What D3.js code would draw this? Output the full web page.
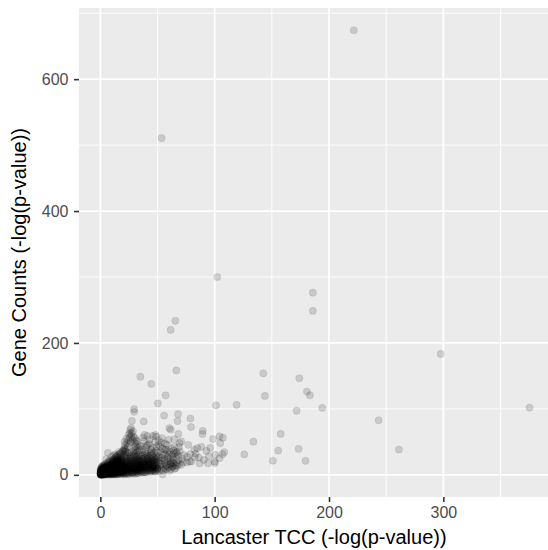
<!DOCTYPE html>
<html>
<head>
<meta charset="utf-8">
<script src="https://cdn.jsdelivr.net/npm/d3@7"></script>
<style>
  body { margin: 0; background: #fff; }
  svg { display: block; }
</style>
</head>
<body>
<svg id="chart" width="548" height="550"></svg>
<script>
// Each gene: [Lancaster TCC -log(p), gene-count -log(p)]

// Isolated, strongly significant genes
const outlierGenes = [
  [221.7,674.2],[53.6,510.6],[102.3,300.0],[185.9,276.2],[185.9,248.5],[65.6,233.6],[61.5,219.7],
  [297.7,183.3],[66.5,158.3],[35.0,148.8],[44.6,137.9],[142.5,154.0],[174.0,146.5],[57.1,120.5],
  [143.9,119.7],[180.7,126.2],[183.3,120.7],[171.7,97.0],[194.1,101.5],[243.4,82.8],[375.4,102.0],
  [157.7,62.1],[155.6,36.8],[173.4,39.4],[150.9,21.4],[179.5,21.2],[261.1,38.4]
];

// Moderately significant genes around the main cloud
const midGenes = [
  [50.3,108.3],[101.2,105.4],[119.2,106.2],[29.6,99.5],[29.5,95.5],[55.8,90.0],[68.0,92.0],[67.5,81.6],
  [78.8,85.4],[79.3,72.5],[27.6,81.8],[37.9,81.0],[26.8,70.9],[25.6,63.2],[60.4,70.8],[61.6,68.4],
  [89.6,66.8],[89.3,62.0],[68.2,62.0],[98.5,54.3],[107.1,56.3],[104.9,48.0],[96.2,41.0],[88.3,42.6],
  [108.4,34.4],[106.9,31.4],[125.9,31.0],[133.9,50.3],[100.5,30.3],[100.2,17.9],[95.0,28.5],[94.1,17.7],
  [86.8,17.3],[90.6,22.7],[86.2,26.2],[79.6,20.2],[78.7,31.4],[72.2,19.0],[73.1,29.8],[68.7,41.9],
  [76.9,45.5],[66.5,32.9],[64.7,54.0],[70.8,50.5],[49.0,58.0],[58.2,46.0],[54.6,0.8],[60.6,35.3],
  [61.5,16.7],[84.8,40.5],[38.7,60.6],[46.0,59.0],[53.3,49.0],[59.7,53.0],[69.3,48.0],[104.3,58.5],
  [99.9,20.2],[104.3,25.3],[63.5,17.7],[70.8,15.2],[78.1,20.2],[6.6,33.5],[48.1,60.6],[41.1,59.0],
  [51.2,52.0],[25.4,48.0],[31.5,52.0],[34.4,42.9],[41.6,45.5],[49.0,42.9],[82.5,26.8],[75.7,18.6],
  [64.7,42.9],[64.1,36.8],[56.8,47.4],[82.2,37.9],[71.5,24.5],[76.0,27.3],[83.4,31.8],[92.7,36.3],
  [40.5,44.8],[45.7,41.0],[47.9,49.6],[43.2,53.5],[50.9,45.9],[53.9,55.7],[56.0,38.0],[45.0,36.0]
];

// Bulk of genes with weak evidence in both tests (TCC below ~20)
const coreGenes = [
  [0.1,0.2],[0.3,1.1],[0.5,0.4],[0.8,2.3],[1.2,0.7],[0.2,3.1],[1.5,1.6],[1.9,0.3],[0.6,4.2],[2.2,2.8],
  [2.6,1.0],[1.1,5.3],[3.0,0.5],[0.4,6.4],[2.9,3.7],[3.4,2.1],[1.7,7.0],[3.8,4.6],[4.1,1.4],[0.9,8.1],
  [2.4,5.9],[4.5,3.2],[4.9,0.9],[3.1,6.8],[5.2,5.0],[1.4,9.2],[5.6,2.4],[4.3,7.9],[6.0,1.1],[2.7,10.3],
  [6.3,4.1],[5.0,8.7],[6.7,6.2],[3.6,11.4],[7.1,2.9],[7.4,8.0],[5.8,10.6],[0.7,0.9],[1.3,2.6],[0.2,1.8],
  [2.0,4.4],[1.6,3.5],[2.8,0.2],[3.3,4.0],[0.5,2.9],[1.8,1.2],[2.3,6.6],[4.0,5.5],[3.7,0.8],[4.6,2.0],
  [5.4,3.8],[0.3,5.0],[1.0,6.9],[2.5,8.4],[4.8,6.3],[6.1,7.4],[5.9,0.4],[6.9,3.6],[7.7,5.1],[7.9,1.7],
  [0.8,0.1],[1.4,0.5],[2.1,1.9],[1.0,3.8],[0.1,4.6],[3.5,2.7],[2.7,3.3],[4.2,0.2],[4.4,4.4],[5.1,1.6],
  [6.5,2.3],[5.5,6.9],[3.9,9.6],[6.6,9.8],[7.3,11.2],[4.7,12.6],[2.0,12.0],[7.8,13.7],[6.2,14.5],[5.3,11.8],
  [0.6,7.5],[1.9,8.9],[3.2,8.2],[0.4,0.6],[0.9,1.5],[1.6,0.1],[2.4,0.8],[0.2,2.4],[1.2,4.0],[2.9,1.6],
  [3.6,5.2],[4.9,3.6],[5.7,4.7],[6.4,5.6],[7.0,7.1],[7.6,9.4],[8.0,3.3],[0.3,3.6],[1.1,1.0],[2.6,2.3],
  [3.3,1.2],[4.0,3.0],[1.7,5.6],[0.7,9.7],[2.2,10.9],[4.5,9.0],[5.9,12.9],[3.0,13.5],[1.3,11.3],[0.5,0.3],
  [1.4,2.0],[2.3,3.2],[3.1,0.9],[3.9,2.2],[4.6,5.0],[5.3,2.7],[6.0,3.0],[6.8,0.8],[7.5,4.3],[7.2,6.0],
  [6.3,8.6],[5.0,9.9],[4.2,6.8],[3.4,7.4],[2.6,7.2],[1.8,6.1],[1.0,4.9],[0.2,7.1],[0.8,5.7],[0.1,0.9],
  [0.6,1.6],[1.5,1.1],[2.1,0.4],[2.8,2.6],[3.5,3.5],[0.4,2.0],[1.1,3.0],[0.9,0.3],[1.9,2.4],[2.5,4.9],
  [0.3,8.8],[1.5,10.1],[3.8,12.4],[3.3,15.2],[4.4,16.8],[5.6,17.5],[6.8,18.9],[2.4,14.1],[7.6,20.2],[1.2,13.0],
  [5.1,24.0],[9.9,27.8],[13.2,31.0],[16.4,34.6],[8.1,22.3],[11.8,29.6],
  [8.2,1.0],[8.5,4.6],[8.8,8.9],[9.1,12.7],[9.4,2.6],[9.7,16.3],[10.0,6.4],[10.3,0.9],[10.6,10.8],[10.9,19.5],
  [11.2,3.7],[11.5,14.1],[11.8,7.9],[12.1,22.0],[12.4,1.8],[12.7,11.6],[13.0,17.2],[13.3,5.3],[13.6,24.4],[13.9,9.4],
  [14.2,2.9],[14.5,14.8],[14.8,20.3],[15.1,7.0],[15.4,26.1],[15.7,11.9],[16.0,1.5],[16.3,17.8],[16.6,4.8],[16.9,23.0],
  [17.2,9.6],[17.5,14.2],[17.8,28.4],[18.1,3.3],[18.4,19.6],[18.7,7.7],[19.0,12.5],[19.3,25.5],[19.6,2.2],[19.9,16.4],
  [8.1,6.7],[8.7,13.3],[9.3,0.5],[9.9,9.2],[10.4,14.9],[10.8,4.1],[11.3,17.8],[11.7,1.2],[12.2,8.4],[12.6,15.0],
  [13.1,3.5],[13.5,20.7],[13.8,12.3],[14.3,6.1],[14.7,23.1],[15.2,0.8],[15.6,16.0],[15.9,9.0],[16.4,21.4],[16.8,2.6],
  [17.1,12.0],[17.6,18.5],[18.0,6.0],[18.5,24.0],[18.9,10.3],[19.4,4.0],[19.8,20.8],
  [8.3,3.0],[8.6,10.9],[9.0,5.6],[9.6,18.0],[10.1,2.0],[10.5,8.0],[11.0,12.2],[11.4,5.8],[11.9,16.1],[12.3,3.1],
  [12.8,19.3],[13.2,7.6],[13.7,14.6],[14.1,0.6],[14.6,10.6],[15.0,18.6],[15.5,4.5],[15.8,22.4],[16.2,8.1],[16.7,13.7],
  [17.0,26.3],[17.4,5.3],[17.9,15.6],[18.3,11.5],[18.8,22.2],[19.2,8.5],[19.7,13.9],
  [8.4,15.2],[8.9,1.9],[9.2,7.4],[9.8,11.1],[10.2,17.4],[10.7,3.0],[11.1,9.5],[11.6,20.6],[12.0,5.0],[12.5,13.2],
  [12.9,0.7],[13.4,10.2],[13.9,18.0],[14.4,4.3],[14.9,12.8],[15.3,21.5],[15.7,2.8],[16.1,14.5],[16.5,6.9],[17.3,20.0],
  [17.7,1.0],[18.2,16.9],[18.6,4.7],[19.1,18.3],[19.5,10.9],[20.0,6.2],
  [8.0,0.2],[8.6,2.2],[9.1,3.8],[9.5,6.0],[10.0,1.1],[10.6,5.2],[11.1,0.4],[11.6,3.0],[12.1,6.7],[12.6,2.4],
  [13.2,1.3],[13.8,4.2],[14.4,8.0],[15.0,2.0],[15.6,6.3],[16.2,3.8],[16.8,9.2],[17.4,2.9],[18.0,8.8],[18.7,1.6],
  [19.3,6.9],[19.8,3.1],[9.7,13.8],[11.2,15.6],[12.8,9.0],[14.0,16.4],[15.4,13.0],[16.9,16.0],[18.3,13.7],[19.6,11.8],
  [10.5,22.5],[12.0,24.8],[13.5,27.0],[15.0,29.0],[16.5,31.0],[18.0,33.0],[19.5,35.0],[11.2,23.0],[14.2,27.9],[17.2,32.1],
  [9.0,20.5],[7.0,15.8],[5.0,14.0],[20.5,36.8],[21.5,38.5]
];

// Shoulder of the cloud: TCC 20-50, including the upward plume
const shoulderGenes = [
  [20.3,1.2],[20.6,9.7],[20.9,17.8],[21.2,26.4],[21.5,4.4],[21.8,13.5],[22.1,31.2],[22.4,7.1],[22.7,21.0],[23.0,2.3],
  [23.3,15.9],[23.6,28.0],[23.9,10.2],[24.2,5.1],[24.5,19.6],[24.8,33.0],[25.1,12.9],[25.4,1.8],[25.7,24.3],[26.0,8.0],
  [26.3,16.8],[26.6,30.1],[26.9,4.3],[27.2,20.9],[27.5,11.0],[27.8,34.3],[28.1,6.6],[28.4,25.8],[28.7,14.6],[29.0,2.9],
  [29.3,18.9],[29.6,29.5],[29.9,9.3],[30.2,22.4],[30.5,4.8],[30.8,13.0],[31.1,32.6],[31.4,7.8],[31.7,17.2],[32.0,26.9],
  [32.3,3.9],[32.6,11.6],[32.9,21.5],[33.2,6.2],[33.5,30.8],[33.8,15.1],[34.1,9.9],[34.4,24.7],[34.7,4.6],[35.0,18.8],
  [20.1,5.6],[20.8,22.7],[21.4,0.9],[21.9,8.6],[22.5,14.4],[23.1,24.9],[23.7,6.4],[24.1,13.8],[24.6,2.8],[25.2,21.2],
  [25.8,10.6],[26.4,27.2],[27.0,14.0],[27.6,3.1],[28.2,17.9],[28.8,9.7],[29.4,31.7],[30.0,15.4],[30.6,8.2],[31.2,24.0],
  [31.8,1.9],[32.4,15.2],[33.0,27.7],[33.6,10.5],[34.2,19.7],[34.8,13.5],
  [20.4,12.6],[21.0,3.0],[21.6,19.2],[22.2,11.0],[22.8,3.9],[23.4,19.0],[24.0,0.8],[24.7,9.0],[25.3,16.0],[26.1,3.6],
  [26.7,11.9],[27.3,24.8],[27.9,8.9],[28.5,4.0],[29.1,12.3],[29.8,6.1],[30.4,27.6],[31.0,11.8],[31.6,20.6],[32.2,8.5],
  [32.8,17.9],[33.4,2.6],[34.0,14.0],[34.6,29.1],[20.2,29.6],[22.0,36.0],[23.5,33.9],[28.9,36.6],[30.7,38.0],[32.5,35.2],
  [34.3,36.8],
  [20.5,7.5],[21.1,15.1],[21.7,10.9],[22.3,2.0],[22.9,26.8],[23.5,9.8],[24.3,17.3],[24.9,6.2],[25.5,14.3],[26.2,22.1],
  [26.8,7.4],[27.4,17.4],[28.0,1.9],[28.6,21.6],[29.2,10.8],[29.9,19.6],[30.3,1.7],[30.9,16.4],[31.5,5.0],[32.1,19.1],
  [32.7,6.4],[33.3,23.0],[33.9,7.2],[34.5,11.2],[35.0,8.0],
  [19.5,36.5],[20.8,40.2],[21.6,44.8],[22.4,38.9],[23.0,48.6],[23.8,43.1],[24.4,52.7],[25.9,56.9],[26.5,49.8],[27.1,59.2],
  [28.3,53.4],[28.6,66.0],[29.2,57.6],[29.8,48.3],[30.3,55.6],[30.9,43.5],[31.6,50.9],[26.2,68.1],[27.4,63.4],[24.9,60.5],
  [22.9,55.0],[21.2,50.3],[29.5,41.2],[32.4,46.7],[33.3,40.6],[35.6,44.0],[36.7,38.6],[38.2,51.3],[40.1,41.8],[42.7,47.2],
  [37.3,56.4],[44.5,38.7],[39.6,35.6],
  [35.4,5.3],[35.9,14.7],[36.3,24.2],[36.8,9.0],[37.2,30.5],[37.7,18.0],[38.1,4.2],[38.6,12.4],[39.0,26.3],[39.5,7.6],
  [39.9,20.9],[40.4,15.5],[40.8,31.9],[41.3,5.9],[41.7,24.6],[42.2,10.7],[42.6,18.3],[43.1,28.8],[43.5,7.0],[44.0,14.0],
  [44.4,22.8],[44.9,4.9],[45.3,31.0],[45.8,11.4],[46.2,19.2],[46.7,26.4],[47.1,8.6],[47.6,16.1],[48.0,23.9],[48.5,6.3],
  [48.9,13.0],[49.4,29.4],[49.8,10.1],
  [35.7,10.4],[36.5,19.7],[37.4,3.8],[38.3,22.2],[39.2,11.0],[40.0,3.5],[40.9,18.6],[41.8,13.8],[42.7,25.8],[43.6,4.6],
  [44.5,17.5],[45.4,8.0],[46.3,12.5],[47.2,22.1],[48.1,4.8],[49.0,19.4],[49.9,15.7],[36.1,28.0],[38.8,33.5],[41.0,28.2],
  [43.9,33.8],[46.8,33.2],[48.7,36.3],
  [35.2,20.9],[36.0,7.0],[37.0,14.9],[37.9,8.7],[38.9,17.2],[39.7,29.6],[40.6,9.4],[41.5,20.9],[42.4,6.6],[43.3,16.2],
  [44.2,10.2],[45.1,24.7],[46.0,6.4],[46.9,15.4],[47.8,11.1],[48.6,26.7],[49.6,7.4],[37.5,24.8],[42.0,22.1],[44.7,29.0],
  [35.5,12.2],[36.2,3.2],[36.9,16.7],[37.6,6.8],[38.4,14.2],[39.1,4.0],[39.8,13.0],[40.5,6.4],[41.2,11.6],[41.9,17.0],
  [42.9,9.0],[43.8,20.0],[44.6,7.3],[45.6,14.6],[46.5,9.6],[47.4,5.4],[48.3,13.8],[49.2,9.0],[36.6,11.9],[38.0,19.6],
  [39.4,16.1],[40.7,23.6],[42.1,14.9],[43.4,12.0],[45.0,18.1],[46.4,21.7],[47.7,18.9],[49.1,22.9]
];

// Thinning tail of the cloud: TCC 50-70
const tailGenes = [
  [50.3,9.4],[50.8,18.7],[51.4,27.3],[51.9,12.6],[52.5,35.4],[53.0,21.6],[53.6,7.8],[54.1,15.8],[54.7,30.1],[55.2,11.0],
  [55.8,24.2],[56.3,17.9],[56.9,9.1],[57.4,38.5],[58.0,13.5],[58.5,27.8],[59.1,20.3],[59.6,10.9],[60.2,31.5],[60.7,15.0],
  [61.3,24.5],[61.8,8.6],[62.4,19.9],[62.9,28.6],[63.5,12.4],[64.0,22.7],[64.6,16.4],[65.1,33.0],[65.7,10.3],[66.2,25.9],
  [66.8,19.0],[67.3,13.6],[67.9,29.4],[68.4,22.0],[69.0,16.6],[69.5,35.8],
  [50.6,25.1],[51.6,5.9],[52.7,16.3],[53.8,26.0],[55.0,6.2],[56.1,21.3],[57.2,14.7],[58.3,8.5],[59.4,25.0],[60.5,6.1],
  [61.6,17.8],[62.7,12.7],[63.8,31.3],[64.9,9.0],[66.0,14.2],[67.1,34.8],[50.1,33.8],[52.2,42.3],[54.4,40.0],[56.6,31.4],
  [58.8,36.1],[62.2,40.2]
];

const xTicks = [0, 100, 200, 300];
const yTicks = [0, 200, 400, 600];
const xTitle = "Lancaster TCC (-log(p-value))";
const yTitle = "Gene Counts (-log(p-value))";

const genes = coreGenes.concat(shoulderGenes, tailGenes, midGenes, outlierGenes);

const svg = d3.select("#chart");
const font = "'Liberation Sans', Arial, Helvetica, sans-serif";
const panel = { left: 79, right: 551, top: 8, bottom: 497 };

// ggplot-style 5% expansion of the data range
function expand([lo, hi]) {
  const pad = (hi - lo) * 0.05;
  return [lo - pad, hi + pad];
}

const x = d3.scaleLinear()
  .domain(expand(d3.extent(genes, d => d[0])))
  .range([panel.left, panel.right]);
const y = d3.scaleLinear()
  .domain(expand(d3.extent(genes, d => d[1])))
  .range([panel.bottom, panel.top]);

// minor grid sits halfway between major breaks
function minorBreaks(ticks, domain) {
  const step = ticks[1] - ticks[0];
  const out = [];
  for (let v = ticks[0] - step / 2; v <= domain[1]; v += step) {
    if (v >= domain[0]) out.push(v);
  }
  return out;
}

svg.append("defs").append("clipPath").attr("id", "panel-clip")
  .append("rect")
  .attr("x", panel.left).attr("y", panel.top)
  .attr("width", panel.right - panel.left)
  .attr("height", panel.bottom - panel.top);

const plot = svg.append("g").attr("clip-path", "url(#panel-clip)");

plot.append("rect")
  .attr("x", panel.left).attr("y", panel.top)
  .attr("width", panel.right - panel.left)
  .attr("height", panel.bottom - panel.top)
  .attr("fill", "#EBEBEB");

const grid = plot.append("g").attr("stroke", "#fff").attr("fill", "none");

grid.selectAll(".xminor").data(minorBreaks(xTicks, x.domain())).join("line")
  .attr("x1", d => x(d)).attr("x2", d => x(d))
  .attr("y1", panel.top).attr("y2", panel.bottom)
  .attr("stroke-width", 0.9);
grid.selectAll(".yminor").data(minorBreaks(yTicks, y.domain())).join("line")
  .attr("y1", d => y(d)).attr("y2", d => y(d))
  .attr("x1", panel.left).attr("x2", panel.right)
  .attr("stroke-width", 0.9);
grid.selectAll(".xmajor").data(xTicks).join("line")
  .attr("x1", d => x(d)).attr("x2", d => x(d))
  .attr("y1", panel.top).attr("y2", panel.bottom)
  .attr("stroke-width", 1.8);
grid.selectAll(".ymajor").data(yTicks).join("line")
  .attr("y1", d => y(d)).attr("y2", d => y(d))
  .attr("x1", panel.left).attr("x2", panel.right)
  .attr("stroke-width", 1.8);

// translucent points: fill and outline overlap, giving a slightly darker rim
plot.append("g").selectAll("circle").data(genes).join("circle")
  .attr("cx", d => x(d[0]))
  .attr("cy", d => y(d[1]))
  .attr("r", 3.6)
  .attr("fill", "#000").attr("fill-opacity", 0.14)
  .attr("stroke", "#000").attr("stroke-opacity", 0.12).attr("stroke-width", 0.7);

// axes
const xAxis = svg.append("g")
  .attr("transform", `translate(0,${panel.bottom})`)
  .call(d3.axisBottom(x).tickValues(xTicks).tickFormat(d3.format("d")).tickSize(5).tickPadding(4.5));
const yAxis = svg.append("g")
  .attr("transform", `translate(${panel.left},0)`)
  .call(d3.axisLeft(y).tickValues(yTicks).tickFormat(d3.format("d")).tickSize(5).tickPadding(5.5));

[xAxis, yAxis].forEach(ax => {
  ax.select(".domain").remove();
  ax.selectAll(".tick line").attr("stroke", "#333").attr("stroke-width", 1.6);
  ax.selectAll(".tick text")
    .attr("fill", "#4D4D4D")
    .style("font-family", font)
    .style("font-size", "16px");
});

svg.append("text")
  .attr("x", (panel.left + panel.right) / 2 - 1)
  .attr("y", 543.5)
  .attr("text-anchor", "middle")
  .style("font-family", font).style("font-size", "20px")
  .attr("fill", "#000")
  .text(xTitle);

svg.append("text")
  .attr("transform", `translate(26,${(panel.top + panel.bottom) / 2}) rotate(-90)`)
  .attr("text-anchor", "middle")
  .style("font-family", font).style("font-size", "20px")
  .attr("fill", "#000")
  .text(yTitle);
</script>
</body>
</html>
